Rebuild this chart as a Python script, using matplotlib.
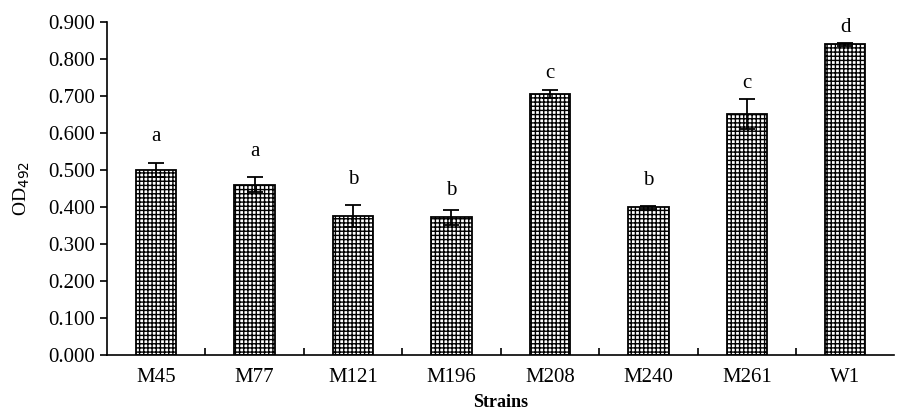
import numpy as np
import matplotlib.pyplot as plt
from matplotlib.ticker import FormatStrFormatter

strains = ['M45', 'M77', 'M121', 'M196', 'M208', 'M240', 'M261', 'W1']
od492 = [0.500, 0.460, 0.375, 0.372, 0.705, 0.400, 0.652, 0.840]
errors = [0.020, 0.020, 0.030, 0.020, 0.011, 0.004, 0.040, 0.004]
letters = ['a', 'a', 'b', 'b', 'c', 'b', 'c', 'd']
letter_y = [0.590, 0.549, 0.475, 0.445, 0.762, 0.473, 0.735, 0.884]

plt.rcParams['font.family'] = ['Liberation Serif', 'DejaVu Serif']
plt.rcParams['hatch.linewidth'] = 1.0

fig = plt.figure(figsize=(9.03, 4.12), dpi=100)
ax = fig.add_axes([0.1185, 0.138, 0.872, 0.8086])

x = np.arange(len(strains))
ax.bar(x, od492, width=0.41, color='white', edgecolor='black', linewidth=1.3,
       hatch='++++')
ax.errorbar(x, od492, yerr=errors, fmt='none', ecolor='black', elinewidth=1.3,
            capsize=6, capthick=1.3)

for xi, lab, ly in zip(x, letters, letter_y):
    ax.text(xi, ly, lab, ha='center', va='center', fontsize=15)

ax.set_xlim(-0.5, len(strains) - 0.5)
ax.set_ylim(0, 0.9)
ax.set_yticks(np.arange(0, 0.901, 0.1))
ax.yaxis.set_major_formatter(FormatStrFormatter('%.3f'))
ax.set_xticks(x)
ax.set_xticklabels(strains)
ax.set_xticks(np.arange(0.5, len(strains) - 0.5, 1), minor=True)
ax.tick_params(axis='x', which='major', length=0, labelsize=15, pad=9)
ax.tick_params(axis='x', which='minor', direction='in', length=5, width=1.2)
ax.tick_params(axis='y', direction='out', length=5, width=1.2, labelsize=15)

for s in ['top', 'right']:
    ax.spines[s].set_visible(False)
for s in ['left', 'bottom']:
    ax.spines[s].set_linewidth(1.2)

ax.set_xlabel('Strains', fontsize=13, fontweight='bold', labelpad=5)
ax.set_ylabel('OD$_{492}$', fontsize=14, labelpad=12)

fig.savefig('out.png', dpi=100)
